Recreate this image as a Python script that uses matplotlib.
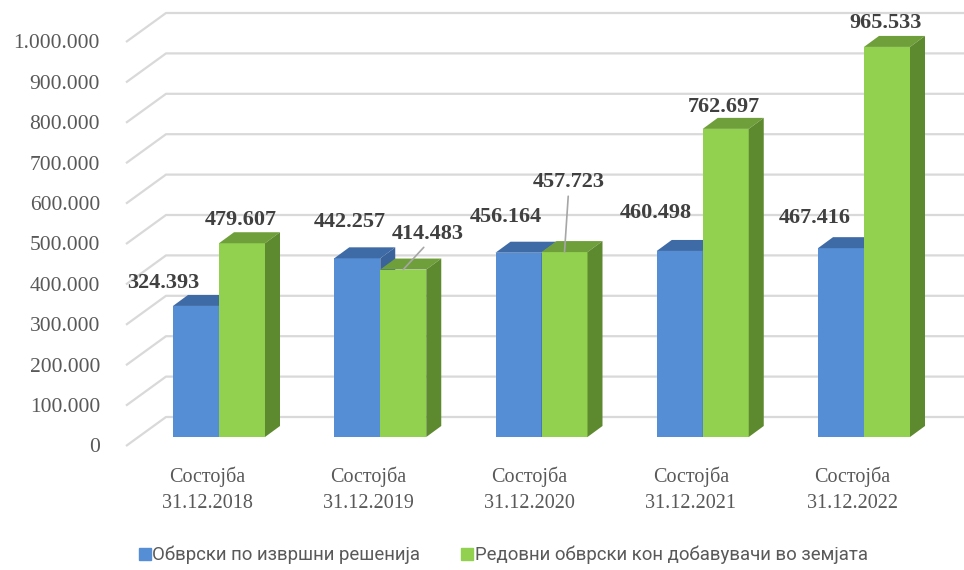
import numpy as np
import matplotlib
matplotlib.use("Agg")
import matplotlib.pyplot as plt
from matplotlib.lines import Line2D

# data
periods = ["Состојба\n31.12.2018", "Состојба\n31.12.2019", "Состојба\n31.12.2020",
           "Состојба\n31.12.2021", "Состојба\n31.12.2022"]
enforcement = [324393, 442257, 456164, 460498, 467416]
suppliers = [479607, 414483, 457723, 762697, 965533]
series_names = ["Обврски по извршни решенија", "Редовни обврски кон добавувачи во земјата"]
yticks = np.arange(0, 1000001, 100000)
ytick_labels = ["0", "100.000", "200.000", "300.000", "400.000", "500.000",
                "600.000", "700.000", "800.000", "900.000", "1.000.000"]

# label offsets in pixels (dx, dy) from the top of each bar
off_blue = [(-33, 23), (-7, 36), (-13, 36), (-24, 38), (-26, 30)]
off_green = [(-1, 23), (24, 36), (4, 70), (-2, 22), (-1, 24)]
leader_green = [False, True, True, False, False]

# colours
blue = ("#558ED5", "#3E6AA6", "#3A639B")   # front, top, side
green = ("#92D050", "#6F9F3A", "#5E8A2F")
grid_c = "#D9D9D9"
text_c = "#595959"
label_c = "#404040"

W, H = 964, 570
fig = plt.figure(figsize=(W / 100, H / 100), dpi=100)
ax = fig.add_axes([0, 0, 1, 1])

# scales: one category = 161.25 px, 1e6 = 404 px
px_x = 161.25
px_y = 404 / 1e6
ax.set_xlim(-219 / px_x, (W - 219) / px_x)
ax.set_ylim(-(H - 437) / px_y, 437 / px_y)
ax.axis("off")

w = 46 / px_x          # bar width
dx = 15 / px_x         # depth offsets
dy = 11 / px_y
wall_dy = 20 / px_y    # back wall above bar base
front_dy = -9 / px_y   # front edge below bar base
x_back = -53 / px_x
x_front = -93 / px_x

# perspective gridlines
for v in yticks:
    ax.plot([x_front, x_back, ax.get_xlim()[1]],
            [v + front_dy, v + wall_dy, v + wall_dy],
            color=grid_c, lw=1.6, zorder=1, solid_capstyle="butt")
for v, lab in zip(yticks, ytick_labels):
    ax.text(-119 / px_x, v + front_dy - 2 / px_y, lab, ha="right", va="center",
            fontsize=15.5, color=text_c, family="Liberation Serif")

x = np.arange(len(periods))


def bar3d(x0, v, cols, z):
    x1 = x0 + w
    ax.bar(x0, v, width=w, align="edge", color=cols[0], zorder=z, lw=0)
    ax.fill([x0, x1, x1 + dx, x0 + dx], [v, v, v + dy, v + dy],
            color=cols[1], zorder=z, lw=0)
    ax.fill([x1, x1 + dx, x1 + dx, x1], [0, dy, v + dy, v],
            color=cols[2], zorder=z, lw=0)


for i in range(len(x)):
    bar3d(x[i] - w, enforcement[i], blue, 3 + 2 * i)
    bar3d(x[i], suppliers[i], green, 4 + 2 * i)

lab_kw = dict(textcoords="offset pixels", ha="center", va="center", fontsize=16,
              fontweight="bold", color=label_c, family="Liberation Serif", zorder=20)
for i in range(len(x)):
    s = f"{enforcement[i]:,}".replace(",", ".")
    ax.annotate(s, (x[i] - w / 2, enforcement[i]), xytext=off_blue[i], **lab_kw)
    s = f"{suppliers[i]:,}".replace(",", ".")
    ap = dict(arrowstyle="-", color="#A6A6A6", lw=1.2, shrinkA=1, shrinkB=0,
              relpos=(0.5, 0.0)) if leader_green[i] else None
    ax.annotate(s, (x[i] + w / 2, suppliers[i]), xytext=off_green[i], arrowprops=ap, **lab_kw)

# category labels
for i, p in enumerate(periods):
    ax.text(x[i] - 12 / px_x, -53 / px_y, p, ha="center", va="center", fontsize=14.5,
            color=text_c, family="Liberation Serif", linespacing=1.5)

handles = [Line2D([], [], marker="s", ls="", color=blue[0], markersize=8),
           Line2D([], [], marker="s", ls="", color=green[0], markersize=8)]
fig.legend(handles, series_names, loc="center", bbox_to_anchor=(503 / W, 15 / H), ncol=2,
           frameon=False, handletextpad=0.05, columnspacing=2.2, handlelength=0.7,
           prop=dict(family=["Roboto", "DejaVu Sans"], size=13.4),
           labelcolor=text_c)

fig.savefig("out.png", dpi=100)
